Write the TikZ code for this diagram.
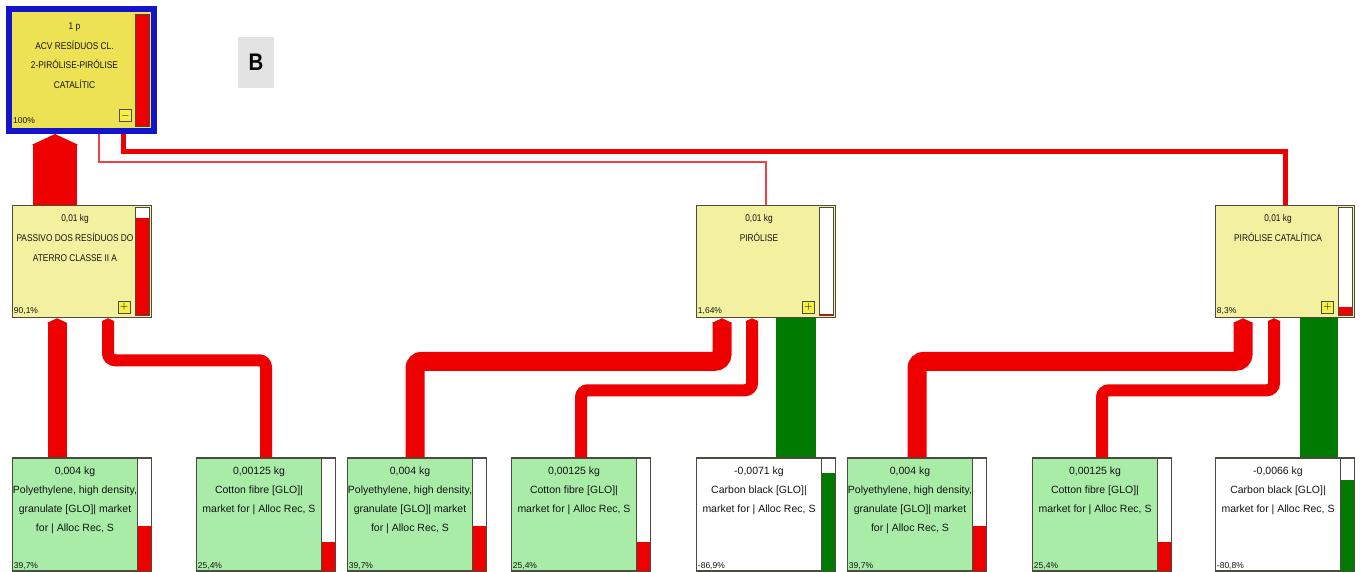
\documentclass[tikz,border=0pt]{standalone}
\usepackage{fontspec}
\setmainfont{Liberation Sans}
\newfontfamily\condsans[FakeStretch=0.85]{Liberation Sans}
\usetikzlibrary{arrows.meta, calc, positioning}

\definecolor{acvblue}{RGB}{20,20,205}
\definecolor{topyellow}{RGB}{236,226,84}
\definecolor{procyellow}{RGB}{243,240,160}
\definecolor{inputgreen}{RGB}{168,236,168}
\definecolor{framegray}{RGB}{75,75,62}
\definecolor{flowred}{RGB}{238,0,0}
\definecolor{flowgreen}{RGB}{0,122,0}
\definecolor{toggleyellow}{RGB}{246,240,70}

% bar at the right side of a box: node, fraction, colour, inset
\newcommand\levelbar[4]{%
  \fill[white] ([xshift=-14pt-#4, yshift=-#4]#1.north east) rectangle ([xshift=-#4, yshift=#4]#1.south east);
  \fill[#3] ([xshift=-14pt-#4, yshift=#4]#1.south east) rectangle
    ($([xshift=-#4, yshift=#4]#1.south east)!#2!([xshift=-#4, yshift=-#4]#1.north east)$);
  \draw[framegray, line width=1pt] ([xshift=-14pt-#4, yshift=-#4]#1.north east) rectangle ([xshift=-#4, yshift=#4]#1.south east);
}

\begin{document}
\begin{tikzpicture}[x=1pt, y=-1pt,
    topbox/.style={draw=acvblue, line width=6pt, fill=topyellow,
                   minimum width=145pt, minimum height=122pt, inner sep=0pt},
    procbox/.style={draw=framegray, line width=1.5pt, fill=procyellow,
                    minimum width=139pt, minimum height=112pt, inner sep=0pt},
    inbox/.style={draw=framegray, line width=1.5pt, fill=#1,
                  minimum width=139pt, minimum height=113pt, inner sep=0pt},
    captxt/.style={anchor=north, align=center, inner sep=0pt, text=black!92},
    capsfont/.style={font={\condsans\fontsize{9.8}{20}\selectfont}},
    topfont/.style={font={\condsans\fontsize{9.8}{19.5}\selectfont}},
    infont/.style={font={\fontsize{10.5}{19}\selectfont}},
    pct/.style={anchor=south west, inner sep=0pt, text=black!92,
                font={\fontsize{8.5}{8.5}\selectfont}},
    togglebox/.style={draw=framegray, fill=toggleyellow, line width=1pt,
                      minimum size=12pt, inner sep=0pt, font={\fontsize{11}{11}\selectfont}},
    panel/.style={fill=gray!22, minimum width=36pt, minimum height=51pt, inner sep=0pt,
                  font={\condsans\bfseries\fontsize{24}{24}\selectfont}},
    band/.style={draw=flowred, line width=#1, rounded corners=7pt,
                 -{Triangle[width=0pt 1.06, length=0pt 0.25]}},
    greenband/.style={draw=flowgreen, line width=#1},
    thinlink/.style={draw=flowred!75, line width=1.2pt},
    widelink/.style={draw=flowred, line width=5pt}
  ]
    \useasboundingbox (0,0) rectangle (1363,571);

    %% TOP NODE
    \node[topbox] (acv) at (81.5,70) {};
    \levelbar{acv}{1}{flowred}{8pt}
    \node[captxt, topfont] (acv-txt) at ([xshift=-7pt, yshift=-17pt]acv.north)
      {1 p\\ACV RESÍDUOS CL.\\2-PIRÓLISE-PIRÓLISE\\CATALÍTIC};
    \node[pct] (acv-pct) at ([xshift=7pt, yshift=10pt]acv.south west) {100\%};
    \node[togglebox] (acv-tog) at ([xshift=-31.5pt, yshift=18.5pt]acv.south east) {$-$};

    \node[panel] (panel-b) at (256,62.5) {B};

    %% PROCESS NODES
    \node[procbox] (passivo) at (82,261.5) {};
    \node[procbox] (pir) at (766,261.5) {};
    \node[procbox] (pc) at (1285,261.5) {};
    \levelbar{passivo}{0.901}{flowred}{2.5pt}
    \levelbar{pir}{0.0164}{flowred}{2.5pt}
    \levelbar{pc}{0.083}{flowred}{2.5pt}
    \node[captxt, capsfont] (passivo-txt) at ([xshift=-7pt, yshift=-9pt]passivo.north)
      {0,01 kg\\PASSIVO DOS RESÍDUOS DO\\ATERRO CLASSE II A};
    \node[captxt, capsfont] (pir-txt) at ([xshift=-7pt, yshift=-9pt]pir.north)
      {0,01 kg\\PIRÓLISE};
    \node[captxt, capsfont] (pc-txt) at ([xshift=-7pt, yshift=-9pt]pc.north)
      {0,01 kg\\PIRÓLISE CATALÍTICA};
    \node[pct] (passivo-pct) at ([xshift=2pt, yshift=3pt]passivo.south west) {90,1\%};
    \node[pct] (pir-pct) at ([xshift=2pt, yshift=3pt]pir.south west) {1,64\%};
    \node[pct] (pc-pct) at ([xshift=2pt, yshift=3pt]pc.south west) {8,3\%};
    \node[togglebox] (passivo-tog) at ([xshift=-28pt, yshift=11pt]passivo.south east) {$+$};
    \node[togglebox] (pir-tog) at ([xshift=-28pt, yshift=11pt]pir.south east) {$+$};
    \node[togglebox] (pc-tog) at ([xshift=-28pt, yshift=11pt]pc.south east) {$+$};

    %% INPUT NODES
    \node[inbox=inputgreen] (pe1) at (82,514.5) {};
    \node[inbox=inputgreen] (cf1) at (266,514.5) {};
    \node[inbox=inputgreen] (pe2) at (417,514.5) {};
    \node[inbox=inputgreen] (cf2) at (581,514.5) {};
    \node[inbox=white] (cb1) at (766,514.5) {};
    \node[inbox=inputgreen] (pe3) at (917,514.5) {};
    \node[inbox=inputgreen] (cf3) at (1102,514.5) {};
    \node[inbox=white] (cb2) at (1285,514.5) {};
    \levelbar{pe1}{0.397}{flowred}{0.75pt}
    \levelbar{cf1}{0.254}{flowred}{0.75pt}
    \levelbar{pe2}{0.397}{flowred}{0.75pt}
    \levelbar{cf2}{0.254}{flowred}{0.75pt}
    \levelbar{cb1}{0.869}{flowgreen}{0.75pt}
    \levelbar{pe3}{0.397}{flowred}{0.75pt}
    \levelbar{cf3}{0.254}{flowred}{0.75pt}
    \levelbar{cb2}{0.808}{flowgreen}{0.75pt}

    \node[captxt, infont] (pe1-txt) at ([xshift=-7pt, yshift=-9pt]pe1.north)
      {0,004 kg\\Polyethylene, high density,\\granulate [GLO]| market\\for | Alloc Rec, S};
    \node[captxt, infont] (cf1-txt) at ([xshift=-7pt, yshift=-9pt]cf1.north)
      {0,00125 kg\\Cotton fibre [GLO]|\\market for | Alloc Rec, S};
    \node[captxt, infont] (pe2-txt) at ([xshift=-7pt, yshift=-9pt]pe2.north)
      {0,004 kg\\Polyethylene, high density,\\granulate [GLO]| market\\for | Alloc Rec, S};
    \node[captxt, infont] (cf2-txt) at ([xshift=-7pt, yshift=-9pt]cf2.north)
      {0,00125 kg\\Cotton fibre [GLO]|\\market for | Alloc Rec, S};
    \node[captxt, infont] (cb1-txt) at ([xshift=-7pt, yshift=-9pt]cb1.north)
      {-0,0071 kg\\Carbon black [GLO]|\\market for | Alloc Rec, S};
    \node[captxt, infont] (pe3-txt) at ([xshift=-7pt, yshift=-9pt]pe3.north)
      {0,004 kg\\Polyethylene, high density,\\granulate [GLO]| market\\for | Alloc Rec, S};
    \node[captxt, infont] (cf3-txt) at ([xshift=-7pt, yshift=-9pt]cf3.north)
      {0,00125 kg\\Cotton fibre [GLO]|\\market for | Alloc Rec, S};
    \node[captxt, infont] (cb2-txt) at ([xshift=-7pt, yshift=-9pt]cb2.north)
      {-0,0066 kg\\Carbon black [GLO]|\\market for | Alloc Rec, S};

    \node[pct] (pe1-pct) at ([xshift=2pt, yshift=2pt]pe1.south west) {39,7\%};
    \node[pct] (cf1-pct) at ([xshift=2pt, yshift=2pt]cf1.south west) {25,4\%};
    \node[pct] (pe2-pct) at ([xshift=2pt, yshift=2pt]pe2.south west) {39,7\%};
    \node[pct] (cf2-pct) at ([xshift=2pt, yshift=2pt]cf2.south west) {25,4\%};
    \node[pct] (cb1-pct) at ([xshift=2pt, yshift=2pt]cb1.south west) {-86,9\%};
    \node[pct] (pe3-pct) at ([xshift=2pt, yshift=2pt]pe3.south west) {39,7\%};
    \node[pct] (cf3-pct) at ([xshift=2pt, yshift=2pt]cf3.south west) {25,4\%};
    \node[pct] (cb2-pct) at ([xshift=2pt, yshift=2pt]cb2.south west) {-80,8\%};

    %% FLOWS
    \draw[band=44pt] ([xshift=-27pt]passivo.north) -- ([xshift=-26.5pt]acv.south);
    \draw[thinlink] ([xshift=17.5pt]acv.south) -- ++(0,28) -| (pir.north);
    \draw[widelink] ([xshift=41.5pt]acv.south) -- ++(0,17) -| (pc.north);

    \draw[band=19pt] ([xshift=-25pt]pe1.north) -- ([xshift=-25pt]passivo.south);
    \draw[band=12pt] (cf1.north) -- ++(0,-97) -| ([xshift=26pt]passivo.south);

    \draw[band=19pt] ([xshift=-2pt]pe2.north) -- ++(0,-96) -| ([xshift=-44pt]pir.south);
    \draw[band=12pt] (cf2.north) -- ++(0,-67) -| ([xshift=-14pt]pir.south);
    \draw[greenband=40pt] ([xshift=30pt]pir.south) -- ([xshift=30pt]pir.south |- cb1.north);

    \draw[band=19pt] (pe3.north) -- ++(0,-96) -| ([xshift=-42pt]pc.south);
    \draw[band=12pt] (cf3.north) -- ++(0,-67) -| ([xshift=-11pt]pc.south);
    \draw[greenband=38pt] ([xshift=34pt]pc.south) -- ([xshift=34pt]pc.south |- cb2.north);
\end{tikzpicture}
\end{document}
